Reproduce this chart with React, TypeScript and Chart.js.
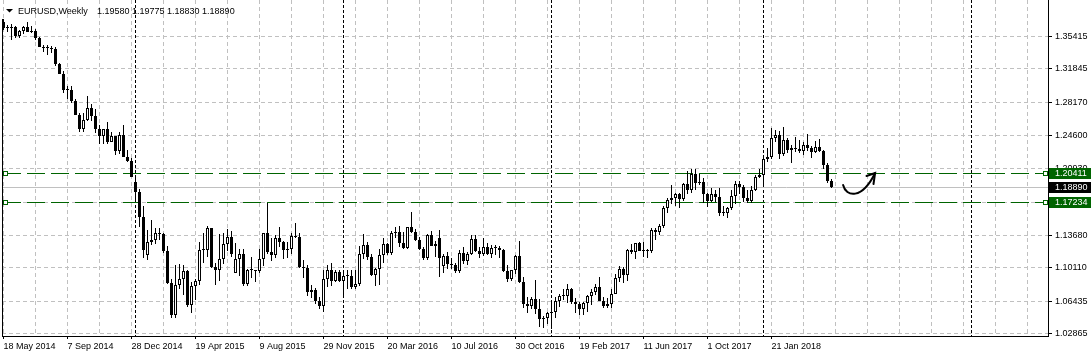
import React, { useEffect, useRef } from 'react';
import { Chart, registerables } from 'chart.js';

Chart.register(...registerables);

// Weekly EURUSD bars, index 0 = week of 18 May 2014, index 207 = week of 6 May 2018
const OPEN = [
  1.3695, 1.3630, 1.3635, 1.3642, 1.3540, 1.3605, 1.3645, 1.3590,
  1.3605, 1.3525, 1.3430, 1.3415, 1.3410, 1.3400, 1.3240, 1.3135,
  1.2950, 1.2960, 1.2835, 1.2685, 1.2525, 1.2630, 1.2760, 1.2670,
  1.2525, 1.2455, 1.2525, 1.2390, 1.2450, 1.2285, 1.2465, 1.2225,
  1.2180, 1.1950, 1.1840, 1.1565, 1.1150, 1.1290, 1.1315, 1.1390,
  1.1380, 1.1195, 1.0840, 1.0495, 1.0825, 1.0890, 1.0970, 1.0600,
  1.0805, 1.0870, 1.1200, 1.1205, 1.1445, 1.1015, 1.0985, 1.1110,
  1.1265, 1.1350, 1.0955, 1.1110, 1.1160, 1.0830, 1.0985, 1.0980,
  1.0970, 1.1105, 1.1385, 1.1185, 1.1150, 1.1340, 1.1290, 1.1200,
  1.1210, 1.1360, 1.1350, 1.1015, 1.1005, 1.0740, 1.0770, 1.0645,
  1.0590, 1.0885, 1.0990, 1.0870, 1.0965, 1.0860, 1.0920, 1.0915,
  1.0795, 1.0830, 1.1155, 1.1260, 1.1130, 1.0935, 1.1000, 1.1150,
  1.1270, 1.1170, 1.1390, 1.1400, 1.1285, 1.1225, 1.1455, 1.1405,
  1.1310, 1.1220, 1.1115, 1.1365, 1.1250, 1.1330, 1.1030, 1.1135,
  1.1050, 1.1040, 1.0975, 1.1175, 1.1085, 1.1160, 1.1325, 1.1195,
  1.1155, 1.1235, 1.1155, 1.1225, 1.1230, 1.1200, 1.0970, 1.0885,
  1.0985, 1.1140, 1.0850, 1.0610, 1.0590, 1.0665, 1.0560, 1.0450,
  1.0455, 1.0520, 1.0530, 1.0645, 1.0705, 1.0700, 1.0780, 1.0640,
  1.0615, 1.0560, 1.0620, 1.0700, 1.0740, 1.0800, 1.0650, 1.0590,
  1.0615, 1.0725, 1.0895, 1.0995, 1.0930, 1.1205, 1.1180, 1.1280,
  1.1195, 1.1200, 1.1195, 1.1425, 1.1400, 1.1470, 1.1665, 1.1750,
  1.1775, 1.1820, 1.1760, 1.1925, 1.1860, 1.2035, 1.1940, 1.1950,
  1.1815, 1.1735, 1.1820, 1.1785, 1.1605, 1.1610, 1.1665, 1.1795,
  1.1930, 1.1895, 1.1775, 1.1745, 1.1860, 1.2005, 1.2030, 1.2200,
  1.2220, 1.2425, 1.2460, 1.2250, 1.2405, 1.2295, 1.2320, 1.2305,
  1.2285, 1.2350, 1.2325, 1.2280, 1.2330, 1.2290, 1.2130, 1.1958,
];

const HIGH = [
  1.3735, 1.3670, 1.3677, 1.3650, 1.3615, 1.3650, 1.3700, 1.3650,
  1.3620, 1.3530, 1.3445, 1.3445, 1.3435, 1.3420, 1.3245, 1.3160,
  1.2995, 1.3000, 1.2860, 1.2705, 1.2700, 1.2887, 1.2800, 1.2750,
  1.2575, 1.2510, 1.2600, 1.2500, 1.2455, 1.2500, 1.2570, 1.2300,
  1.2215, 1.1990, 1.1870, 1.1680, 1.1425, 1.1534, 1.1445, 1.1450,
  1.1390, 1.1245, 1.0890, 1.1045, 1.1050, 1.1035, 1.0990, 1.0850,
  1.0890, 1.1290, 1.1390, 1.1467, 1.1450, 1.1060, 1.1380, 1.1385,
  1.1435, 1.1410, 1.1280, 1.1215, 1.1215, 1.0995, 1.1130, 1.0990,
  1.1215, 1.1390, 1.1714, 1.1330, 1.1370, 1.1460, 1.1300, 1.1290,
  1.1390, 1.1495, 1.1390, 1.1095, 1.1045, 1.0825, 1.0790, 1.0690,
  1.0985, 1.1045, 1.1060, 1.0990, 1.0990, 1.0970, 1.0990, 1.0990,
  1.0985, 1.1245, 1.1376, 1.1295, 1.1160, 1.1005, 1.1215, 1.1340,
  1.1280, 1.1410, 1.1455, 1.1465, 1.1400, 1.1460, 1.1615, 1.1435,
  1.1345, 1.1240, 1.1375, 1.1415, 1.1300, 1.1427, 1.1165, 1.1185,
  1.1120, 1.1060, 1.1200, 1.1235, 1.1185, 1.1365, 1.1365, 1.1240,
  1.1330, 1.1285, 1.1255, 1.1260, 1.1245, 1.1215, 1.1040, 1.0990,
  1.1145, 1.1300, 1.0905, 1.0685, 1.0690, 1.0875, 1.0670, 1.0480,
  1.0525, 1.0625, 1.0685, 1.0720, 1.0775, 1.0830, 1.0790, 1.0680,
  1.0630, 1.0630, 1.0715, 1.0780, 1.0830, 1.0905, 1.0690, 1.0680,
  1.0780, 1.0940, 1.1025, 1.1020, 1.1215, 1.1265, 1.1285, 1.1295,
  1.1295, 1.1215, 1.1445, 1.1445, 1.1490, 1.1685, 1.1775, 1.1910,
  1.1830, 1.1825, 1.1940, 1.2070, 1.2095, 1.2090, 1.2035, 1.1990,
  1.1830, 1.1880, 1.1860, 1.1880, 1.1690, 1.1675, 1.1860, 1.1960,
  1.1960, 1.1910, 1.1865, 1.1905, 1.2025, 1.2090, 1.2215, 1.2325,
  1.2537, 1.2520, 1.2505, 1.2555, 1.2430, 1.2355, 1.2445, 1.2410,
  1.2390, 1.2475, 1.2345, 1.2395, 1.2415, 1.2300, 1.2155, 1.19775,
];

const LOW = [
  1.3615, 1.3585, 1.3503, 1.3525, 1.3525, 1.3570, 1.3585, 1.3575,
  1.3505, 1.3425, 1.3365, 1.3335, 1.3355, 1.3215, 1.3130, 1.2920,
  1.2860, 1.2815, 1.2680, 1.2500, 1.2500, 1.2610, 1.2615, 1.2485,
  1.2360, 1.2360, 1.2360, 1.2385, 1.2245, 1.2250, 1.2220, 1.2165,
  1.2000, 1.1755, 1.1460, 1.1115, 1.1098, 1.1260, 1.1270, 1.1315,
  1.1175, 1.0835, 1.0460, 1.0460, 1.0780, 1.0710, 1.0580, 1.0520,
  1.0660, 1.0820, 1.1060, 1.1130, 1.1010, 1.0820, 1.0860, 1.1050,
  1.1190, 1.1130, 1.0955, 1.0915, 1.0810, 1.0810, 1.0900, 1.0850,
  1.0950, 1.1030, 1.1160, 1.1085, 1.1120, 1.1240, 1.1105, 1.1120,
  1.1165, 1.1330, 1.1010, 1.0895, 1.0705, 1.0675, 1.0615, 1.0560,
  1.0525, 1.0800, 1.0805, 1.0850, 1.0850, 1.0710, 1.0780, 1.0780,
  1.0775, 1.0810, 1.1110, 1.1090, 1.0920, 1.0810, 1.0820, 1.1060,
  1.1145, 1.1145, 1.1330, 1.1235, 1.1215, 1.1215, 1.1385, 1.1305,
  1.1200, 1.1100, 1.1100, 1.1245, 1.1130, 1.0912, 1.0950, 1.1000,
  1.1000, 1.0950, 1.0950, 1.1050, 1.1045, 1.1150, 1.1185, 1.1120,
  1.1140, 1.1150, 1.1120, 1.1150, 1.1120, 1.0965, 1.0850, 1.0860,
  1.0945, 1.0845, 1.0570, 1.0520, 1.0560, 1.0505, 1.0365, 1.0350,
  1.0390, 1.0340, 1.0455, 1.0580, 1.0655, 1.0620, 1.0615, 1.0520,
  1.0495, 1.0495, 1.0525, 1.0600, 1.0715, 1.0645, 1.0570, 1.0570,
  1.0565, 1.0720, 1.0850, 1.0840, 1.0860, 1.1160, 1.1110, 1.1190,
  1.1130, 1.1120, 1.1175, 1.1310, 1.1370, 1.1440, 1.1610, 1.1705,
  1.1690, 1.1660, 1.1740, 1.1820, 1.1825, 1.1860, 1.1910, 1.1715,
  1.1670, 1.1730, 1.1730, 1.1575, 1.1575, 1.1555, 1.1640, 1.1710,
  1.1815, 1.1730, 1.1715, 1.1720, 1.1850, 1.1995, 1.1915, 1.2165,
  1.2205, 1.2385, 1.2205, 1.2235, 1.2260, 1.2155, 1.2275, 1.2260,
  1.2240, 1.2285, 1.2215, 1.2260, 1.2280, 1.2095, 1.1940, 1.1883,
];

const CLOSE = [
  1.3630, 1.3635, 1.3642, 1.3540, 1.3605, 1.3645, 1.3590, 1.3605,
  1.3525, 1.3430, 1.3415, 1.3410, 1.3400, 1.3240, 1.3135, 1.2950,
  1.2960, 1.2835, 1.2685, 1.2525, 1.2630, 1.2760, 1.2670, 1.2525,
  1.2455, 1.2525, 1.2390, 1.2450, 1.2285, 1.2465, 1.2225, 1.2180,
  1.2000, 1.1840, 1.1565, 1.1205, 1.1290, 1.1315, 1.1390, 1.1380,
  1.1195, 1.0840, 1.0495, 1.0825, 1.0890, 1.0970, 1.0600, 1.0805,
  1.0870, 1.1200, 1.1205, 1.1445, 1.1015, 1.0985, 1.1110, 1.1265,
  1.1350, 1.1165, 1.1110, 1.1160, 1.0830, 1.0985, 1.0980, 1.0970,
  1.1105, 1.1385, 1.1185, 1.1150, 1.1340, 1.1290, 1.1200, 1.1210,
  1.1360, 1.1350, 1.1015, 1.1005, 1.0740, 1.0770, 1.0645, 1.0590,
  1.0885, 1.0990, 1.0870, 1.0965, 1.0860, 1.0920, 1.0915, 1.0795,
  1.0830, 1.1155, 1.1260, 1.1130, 1.0935, 1.1000, 1.1150, 1.1270,
  1.1170, 1.1390, 1.1400, 1.1285, 1.1225, 1.1455, 1.1405, 1.1310,
  1.1220, 1.1115, 1.1365, 1.1250, 1.1275, 1.1117, 1.1135, 1.1050,
  1.1040, 1.0975, 1.1175, 1.1085, 1.1160, 1.1325, 1.1195, 1.1155,
  1.1235, 1.1155, 1.1225, 1.1230, 1.1200, 1.0970, 1.0885, 1.0985,
  1.1140, 1.0850, 1.0610, 1.0590, 1.0665, 1.0560, 1.0450, 1.0455,
  1.0520, 1.0530, 1.0645, 1.0705, 1.0700, 1.0780, 1.0640, 1.0615,
  1.0560, 1.0620, 1.0700, 1.0740, 1.0800, 1.0650, 1.0590, 1.0615,
  1.0725, 1.0895, 1.0995, 1.0930, 1.1205, 1.1180, 1.1280, 1.1195,
  1.1200, 1.1195, 1.1425, 1.1400, 1.1470, 1.1665, 1.1750, 1.1775,
  1.1820, 1.1760, 1.1925, 1.1860, 1.2035, 1.1940, 1.1950, 1.1815,
  1.1735, 1.1820, 1.1785, 1.1605, 1.1610, 1.1665, 1.1795, 1.1930,
  1.1895, 1.1775, 1.1745, 1.1860, 1.2005, 1.2030, 1.2200, 1.2220,
  1.2425, 1.2460, 1.2250, 1.2405, 1.2295, 1.2320, 1.2305, 1.2285,
  1.2350, 1.2325, 1.2280, 1.2330, 1.2290, 1.2130, 1.1960, 1.1889,
];

// Time axis: a label every 16 bars, a grid line every 8 bars
const X_LABEL_INDEX = [0, 16, 32, 48, 64, 80, 96, 112, 128, 144, 160, 176, 192];
const X_LABELS = [
  '18 May 2014', '7 Sep 2014', '28 Dec 2014', '19 Apr 2015', '9 Aug 2015',
  '29 Nov 2015', '20 Mar 2016', '10 Jul 2016', '30 Oct 2016', '19 Feb 2017',
  '11 Jun 2017', '1 Oct 2017', '21 Jan 2018',
];
const X_GRID_STEP = 8;
const X_MIN = -0.375;
const X_MAX = 261.125;

// Price axis
const Y_TICKS = [1.35415, 1.31845, 1.2817, 1.246, 1.2093, 1.1726, 1.1368, 1.1011, 1.06435, 1.02865];
const Y_MIN = 1.026315;
const Y_MAX = 1.39393;

// Year separators (bar index of first week of each year)
const SEPARATORS = [33, 85, 137, 190, 242];
// Horizontal levels
const LEVELS = [1.20411, 1.17234];
const BID = 1.1889;

const HEADER_SYMBOL = 'EURUSD,Weekly';
const HEADER_VALUES = '1.19580 1.19775 1.18830 1.18890';

// Hand-drawn arrow (bar index, price): cubic curve + head wings
const ARROW_CURVE = [[209.9, 1.1915], [210.6, 1.1784], [214.6, 1.1751], [217.9, 1.2047]];
const ARROW_WINGS = [[215.75, 1.2014], [217.5, 1.1926]];

const GREEN = '#006400';
const GRID = '#c0c0c0';
const FONT = "'Liberation Sans', Arial, sans-serif";

const overlayPlugin = {
  id: 'mt4Overlay',
  beforeDraw(chart: any) {
    const ctx = chart.ctx;
    ctx.save();
    ctx.fillStyle = '#ffffff';
    ctx.fillRect(0, 0, chart.width, chart.height);
    ctx.restore();
  },
  beforeDatasetsDraw(chart: any) {
    const { ctx, chartArea: a, scales } = chart;
    const xs = scales.x;
    const ys = scales.y;
    ctx.save();
    ctx.lineWidth = 1;
    // year separators
    ctx.strokeStyle = '#000000';
    ctx.setLineDash([3, 2]);
    SEPARATORS.forEach((i) => {
      const px = Math.floor(xs.getPixelForValue(i)) + 0.5;
      if (px > a.right) return;
      ctx.beginPath();
      ctx.moveTo(px, a.top);
      ctx.lineTo(px, a.bottom);
      ctx.stroke();
    });
    // bid line
    ctx.setLineDash([]);
    ctx.strokeStyle = GRID;
    const by = Math.floor(ys.getPixelForValue(BID)) + 0.5;
    ctx.beginPath();
    ctx.moveTo(a.left, by);
    ctx.lineTo(a.right, by);
    ctx.stroke();
    // level lines
    ctx.strokeStyle = GREEN;
    ctx.setLineDash([18, 6]);
    LEVELS.forEach((v) => {
      const ly = Math.floor(ys.getPixelForValue(v)) + 0.5;
      ctx.beginPath();
      ctx.moveTo(a.left + 1, ly);
      ctx.lineTo(a.right, ly);
      ctx.stroke();
    });
    ctx.restore();

    // snap candle geometry to whole pixels
    chart.data.datasets.forEach((_ds: any, di: number) => {
      const meta = chart.getDatasetMeta(di);
      meta.data.forEach((el: any) => {
        const y = Math.round(el.y);
        let b = Math.round(el.base);
        if (y === b) b = y + 1;
        el.y = y;
        el.base = b;
      });
    });
  },
  afterDraw(chart: any) {
    const { ctx, chartArea: a, scales } = chart;
    const xs = scales.x;
    const ys = scales.y;
    ctx.save();
    // left frame line
    ctx.strokeStyle = '#000000';
    ctx.lineWidth = 1;
    ctx.beginPath();
    ctx.moveTo(a.left + 0.5, 19);
    ctx.lineTo(a.left + 0.5, a.bottom + 1);
    ctx.stroke();

    ctx.font = `9px ${FONT}`;
    ctx.textBaseline = 'middle';
    ctx.textAlign = 'left';
    // level squares + axis boxes
    LEVELS.forEach((v) => {
      const row = Math.floor(ys.getPixelForValue(v));
      [a.left + 1, a.right - 5].forEach((sx) => {
        ctx.fillStyle = '#ffffff';
        ctx.fillRect(sx, row - 2, 5, 5);
        ctx.strokeStyle = GREEN;
        ctx.strokeRect(sx + 0.5, row - 1.5, 4, 4);
      });
      ctx.fillStyle = GREEN;
      ctx.fillRect(a.right + 1, row - 5, chart.width - a.right - 1, 11);
      ctx.fillStyle = '#ffffff';
      ctx.fillText(v.toFixed(5), a.right + 7, row + 0.5);
    });
    const brow = Math.floor(ys.getPixelForValue(BID));
    ctx.fillStyle = '#000000';
    ctx.fillRect(a.right + 1, brow - 5, chart.width - a.right - 1, 11);
    ctx.fillStyle = '#ffffff';
    ctx.fillText(BID.toFixed(5), a.right + 7, brow + 0.5);

    // header
    ctx.fillStyle = '#000000';
    ctx.beginPath();
    ctx.moveTo(6, 9);
    ctx.lineTo(13, 9);
    ctx.lineTo(9.5, 12.5);
    ctx.closePath();
    ctx.fill();
    ctx.textBaseline = 'alphabetic';
    ctx.fillText(HEADER_SYMBOL, 18, 14);
    ctx.fillText(HEADER_VALUES, 97, 14);

    // arrow
    const P = (p: number[]) => [xs.getPixelForValue(p[0]), ys.getPixelForValue(p[1])];
    const c = ARROW_CURVE.map(P);
    ctx.strokeStyle = '#000000';
    ctx.lineWidth = 2;
    ctx.lineCap = 'round';
    ctx.beginPath();
    ctx.moveTo(c[0][0], c[0][1]);
    ctx.bezierCurveTo(c[1][0], c[1][1], c[2][0], c[2][1], c[3][0], c[3][1]);
    ctx.stroke();
    const w = ARROW_WINGS.map(P);
    ctx.beginPath();
    ctx.moveTo(w[0][0], w[0][1]);
    ctx.lineTo(c[3][0], c[3][1]);
    ctx.lineTo(w[1][0], w[1][1]);
    ctx.stroke();
    ctx.restore();
  },
};

export default function App() {
  const ref = useRef<HTMLCanvasElement | null>(null);

  useEffect(() => {
    const canvas = ref.current;
    if (!canvas) return;
    const bull = CLOSE.map((c, i) => c >= OPEN[i]);
    const gridTicks: number[] = [];
    for (let v = 0; v <= X_MAX; v += X_GRID_STEP) gridTicks.push(v);

    const chart = new Chart(canvas, {
      type: 'bar',
      data: {
        datasets: [
          {
            label: 'body',
            data: OPEN.map((o, i) => ({ x: i, y: [o, CLOSE[i]] })),
            backgroundColor: bull.map((b) => (b ? '#ffffff' : '#000000')),
            borderColor: '#000000',
            borderWidth: bull.map((b) => (b ? 1 : 0)),
            borderSkipped: false,
            barThickness: 3,
            minBarLength: 1,
            inflateAmount: 0,
            grouped: false,
            order: 0,
          } as any,
          {
            label: 'wick',
            data: LOW.map((l, i) => ({ x: i, y: [l, HIGH[i]] })),
            backgroundColor: '#000000',
            borderWidth: 0,
            barThickness: 1,
            inflateAmount: 0,
            grouped: false,
            order: 1,
          } as any,
        ],
      },
      options: {
        responsive: false,
        animation: false,
        devicePixelRatio: 1,
        events: [],
        layout: { padding: { left: 2, top: 0, right: 0, bottom: 0 } },
        plugins: { legend: { display: false }, tooltip: { enabled: false } },
        scales: {
          x: {
            type: 'linear',
            min: X_MIN,
            max: X_MAX,
            offset: false,
            bounds: 'data',
            afterBuildTicks: (s: any) => {
              s.ticks = gridTicks.map((v) => ({ value: v }));
            },
            afterFit: (s: any) => {
              s.height = 21;
              s.paddingLeft = 0;
              s.paddingRight = 0;
            },
            grid: {
              color: GRID,
              lineWidth: 1,
              offset: false,
              drawTicks: true,
              tickLength: 3,
              tickBorderDash: [],
              tickColor: (ctx: any) =>
                ctx.tick && X_LABEL_INDEX.includes(ctx.tick.value) ? '#000000' : 'rgba(0,0,0,0)',
            },
            border: { display: true, color: '#000000', dash: [4, 3] },
            ticks: {
              autoSkip: false,
              maxRotation: 0,
              minRotation: 0,
              align: 'start',
              padding: 2,
              color: '#000000',
              font: { family: FONT, size: 9 },
              callback: (v: any) => {
                const k = X_LABEL_INDEX.indexOf(Number(v));
                return k >= 0 ? X_LABELS[k] : '';
              },
            },
          },
          y: {
            type: 'linear',
            position: 'right',
            min: Y_MIN,
            max: Y_MAX,
            beginAtZero: false,
            bounds: 'data',
            afterBuildTicks: (s: any) => {
              s.ticks = Y_TICKS.map((v) => ({ value: v }));
            },
            afterFit: (s: any) => {
              s.width = 43;
              s.paddingTop = 0;
              s.paddingBottom = 0;
            },
            grid: {
              color: GRID,
              lineWidth: 1,
              drawTicks: true,
              tickLength: 4,
              tickBorderDash: [],
              tickColor: '#000000',
            },
            border: { display: true, color: '#000000', dash: [4, 3] },
            ticks: {
              padding: 3,
              color: '#000000',
              font: { family: FONT, size: 9 },
              callback: (v: any) => Number(v).toFixed(5),
            },
          },
        },
      } as any,
      plugins: [overlayPlugin as any],
    });
    return () => chart.destroy();
  }, []);

  return (
    <div style={{ position: 'fixed', left: 0, top: 0, width: 1091, height: 357, background: '#ffffff' }}>
      <canvas ref={ref} width={1091} height={357} style={{ display: 'block' }} />
    </div>
  );
}
